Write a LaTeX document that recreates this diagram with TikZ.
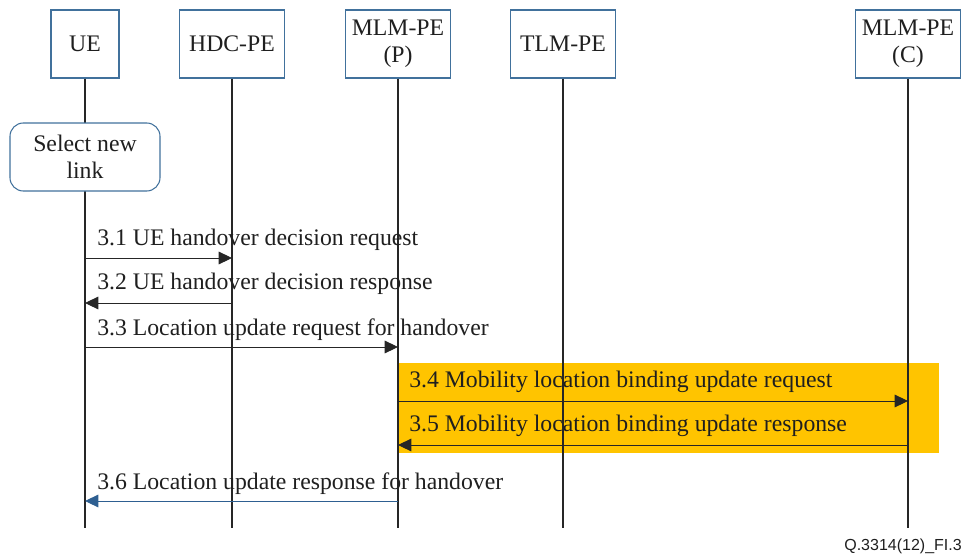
\documentclass[tikz,border=0pt]{standalone}
\usepackage{fontspec}
\setmainfont{Liberation Serif}
\newfontfamily\figfont{Liberation Sans}
\usetikzlibrary{arrows.meta}
\definecolor{boxblue}{RGB}{65,113,156}
\definecolor{bindyellow}{RGB}{255,196,0}
\definecolor{msgblue}{RGB}{46,95,145}

\begin{document}
\begin{tikzpicture}[x=0.75pt,y=-0.75pt,
  every node/.style={text=black!88},
  entity/.style={draw=boxblue,line width=0.8pt,minimum height=51pt,inner sep=0pt,
    align=center,font=\fontsize{17.8}{20}\selectfont},
  selbox/.style={entity,rounded corners=10pt,fill=white,minimum width=112.5pt},
  life/.style={line width=1pt,black!85},
  msg/.style={line width=0.7pt,black!85,-{Triangle[length=10pt,width=9.5pt]}},
  lbl/.style={anchor=base west,inner sep=0pt,font=\fontsize{17.8}{20}\selectfont}]
  \useasboundingbox (0,0) rectangle (963,553);
  \fill[bindyellow] (397,363) rectangle (939,453);

  \node[entity,minimum width=51pt] (ue) at (85,44) {UE};
  \node[entity,minimum width=79pt] (hdc) at (232,44) {HDC-PE};
  \node[entity,minimum width=79pt] (mlmp) at (398,44) {MLM-PE\\(P)};
  \node[entity,minimum width=79pt] (tlm) at (563,44) {TLM-PE};
  \node[entity,minimum width=79pt] (mlmc) at (908,44) {MLM-PE\\(C)};
  \foreach \n in {ue,hdc,mlmp,tlm,mlmc}
    \draw[life] (\n) -- (\n |- 0,528);
  \node[selbox] (sel) at (85,157) {Select new\\link};

  \node[lbl] (m31) at (97,245) {3.1 UE handover decision request};
  \draw[msg] (ue |- 0,258) -- (hdc |- 0,258);
  \node[lbl] (m32) at (97,289) {3.2 UE handover decision response};
  \draw[msg] (hdc |- 0,303) -- (ue |- 0,303);
  \node[lbl] (m33) at (97,335) {3.3 Location update request for handover};
  \draw[msg] (ue |- 0,347) -- (mlmp |- 0,347);
  \node[lbl] (m34) at (409,387) {3.4 Mobility location binding update request};
  \draw[msg] (mlmp |- 0,401) -- (mlmc |- 0,401);
  \node[lbl] (m35) at (409,431) {3.5 Mobility location binding update response};
  \draw[msg] (mlmc |- 0,445) -- (mlmp |- 0,445);
  \node[lbl] (m36) at (97,489) {3.6 Location update response for handover};
  \draw[msg,msgblue] (mlmp |- 0,501) -- (ue |- 0,501);

  \node[anchor=base east,inner sep=0pt,font=\figfont\fontsize{12}{14}\selectfont] (figid)
    at (962,550) {Q.3314(12)\_FI.3};
\end{tikzpicture}
\end{document}
